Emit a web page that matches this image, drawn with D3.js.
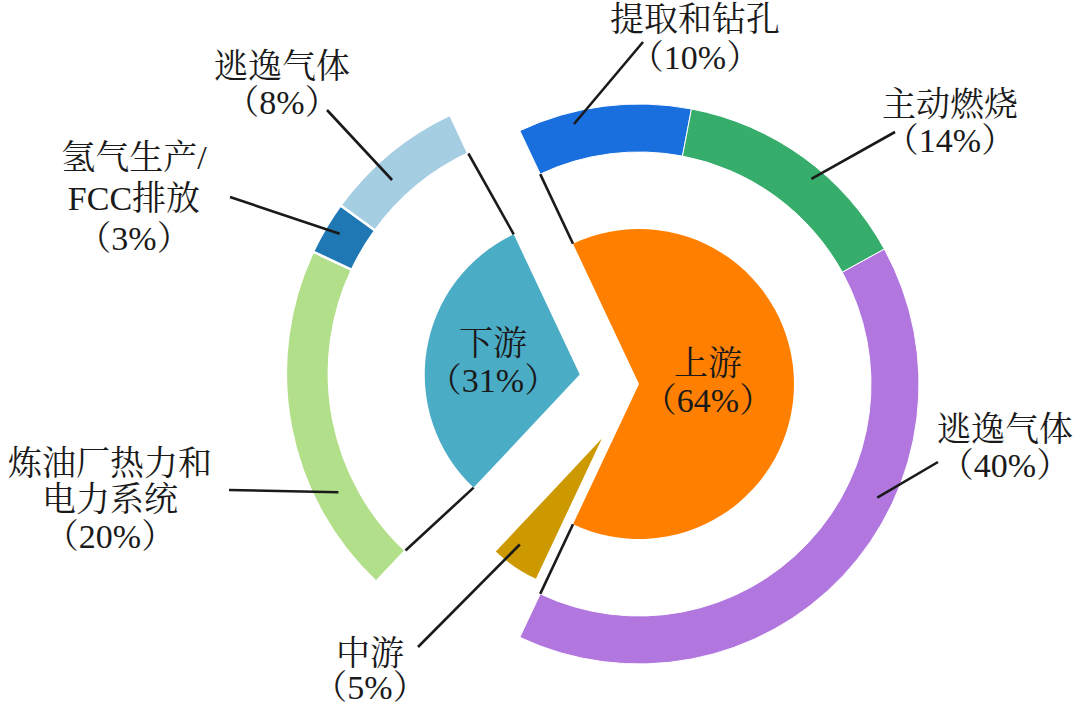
<!DOCTYPE html>
<html>
<head>
<meta charset="utf-8">
<script src="https://cdn.jsdelivr.net/npm/d3@7"></script>
<style>
  html,body{margin:0;padding:0;background:#fff;}
  svg text{font-family:"Liberation Serif","Times New Roman","Noto Serif CJK SC","Noto Sans CJK SC",serif;fill:#1a1a1a;}
</style>
</head>
<body>
<div id="chart"></div>
<script>
"use strict";
// 油气产业链排放构成：内圈为上/中/下游，外环为上游和下游的细分
const groups      = ["上游","中游","下游"];
const groupShare  = [64, 5, 31];
const groupColor  = ["#FF8000","#CC9900","#4BACC6"];

const upSub       = ["提取和钻孔","主动燃烧","逃逸气体"];
const upShare     = [10, 14, 40];
const upColor     = ["#1A6FDF","#37AD6B","#B177DE"];

const downSub     = ["炼油厂热力和电力系统","氢气生产/FCC排放","逃逸气体"];
const downShare   = [20, 3, 8];
const downColor   = ["#B2DF8A","#1F78B4","#A6CEE3"];

// 标签排版（每行文字、中心x、各行基线y、引线终点）
const upLabels = [
  {lines:["提取和钻孔","（10%）"], x:695, y:[31,69],  end:[643,42],  frac:0.31, r:268},
  {lines:["主动燃烧","（14%）"],   x:950, y:[116,152], end:[895,132], frac:0.58, r:268},
  {lines:["逃逸气体","（40%）"],   x:1005,y:[441,477], end:[938,462], frac:0.377,r:264}
];
const downLabels = [
  {lines:["炼油厂热力和","电力系统","（20%）"], x:110, y:[475,511,548], end:[229,490], frac:0.275, r:262},
  {lines:["氢气生产/","FCC排放","（3%）"],      x:134, y:[169,210,250], end:[230,197], frac:0.54,  r:271},
  {lines:["逃逸气体","（8%）"],                x:282, y:[78,114],      end:[327,110], frac:0.385, r:264}
];
const midLabel   = {lines:["中游","（5%）"],  x:370, y:[665,699], end:[418,647], frac:0.7, r:134};
const innerLabel = [
  {lines:["上游","（64%）"], x:708, y:[375,412]},
  null,
  {lines:["下游","（31%）"], x:493, y:[355,392]}
];

const W = 1080, H = 705;
const C = [639, 384];          // 饼图中心
const R = 155;                 // 内饼半径
const explode = [0, 66, 60];   // 各扇区沿中线外移
const UP_IN = 232, UP_OUT = 280, UP_SHIFT = 0;
const DN_IN = 243, DN_OUT = 286, DN_SHIFT = 68;

const polar = (c, r, a) => [c[0] + r*Math.sin(a), c[1] - r*Math.cos(a)];

const svg = d3.select("#chart").append("svg").attr("width", W).attr("height", H);

const start = Math.PI/2 - groupShare[0]/100*Math.PI;   // 上游扇区以正右方为中线
const pie = d3.pie().sort(null).value((d)=>d).startAngle(start).endAngle(start + 2*Math.PI);
const arcs = pie(groupShare);
const mid = (a)=> (a.startAngle + a.endAngle)/2;
const centers = arcs.map((a,i)=> polar(C, explode[i], mid(a)));

const arcIn = d3.arc().innerRadius(0).outerRadius(R);
svg.append("g").selectAll("path").data(arcs).join("path")
  .attr("transform", (d,i)=>`translate(${centers[i]})`)
  .attr("d", arcIn).attr("fill", (d,i)=>groupColor[i]);

// 外环
function ring(parent, values, colors, rc, rin, rout, sep){
  const sub = d3.pie().sort(null).value((d)=>d).startAngle(parent.startAngle).endAngle(parent.endAngle)(values);
  const arc = d3.arc().innerRadius(rin).outerRadius(rout);
  svg.append("g").attr("transform", `translate(${rc})`).selectAll("path").data(sub).join("path")
    .attr("d", arc).attr("fill", (d,i)=>colors[i])
    .attr("stroke", "#fff").attr("stroke-width", sep);
  return sub;
}
const upC = polar(C, UP_SHIFT, mid(arcs[0]));
const dnC = polar(C, DN_SHIFT, mid(arcs[2]));
// 下游外环按顺时针：热力电力 → 氢气 → 逃逸
const upArcs = ring(arcs[0], upShare, upColor, upC, UP_IN, UP_OUT, 1);
const dnArcs = ring(arcs[2], downShare, downColor, dnC, DN_IN, DN_OUT, 2.5);

const lines = svg.append("g").attr("stroke", "#1a1a1a").attr("stroke-width", 2.6).attr("fill", "none");
const seg = (p, q)=> lines.append("line").attr("x1",p[0]).attr("y1",p[1]).attr("x2",q[0]).attr("y2",q[1]);

// 扇区边与外环内缘之间的连接线
[arcs[0].startAngle, arcs[0].endAngle].forEach((a)=> seg(polar(centers[0], R, a), polar(upC, UP_IN, a)));
[arcs[2].startAngle, arcs[2].endAngle].forEach((a)=> seg(polar(centers[2], R, a), polar(dnC, DN_IN, a)));

// 引线 + 标签
function label(L, a, c){
  if(a && c){
    const ang = a.startAngle + L.frac*(a.endAngle - a.startAngle);
    seg(polar(c, L.r, ang), L.end);
  }
  const t = svg.append("text").attr("text-anchor", "middle").attr("font-size", 34);
  L.lines.forEach((s,k)=> t.append("tspan").attr("x", L.x).attr("y", L.y[k]).text(s));
}
upLabels.forEach((L,i)=> label(L, upArcs[i], upC));
downLabels.forEach((L,i)=> label(L, dnArcs[i], dnC));
label(midLabel, arcs[1], centers[1]);
innerLabel.forEach((L)=>{ if(L) label(L); });
</script>
</body>
</html>
